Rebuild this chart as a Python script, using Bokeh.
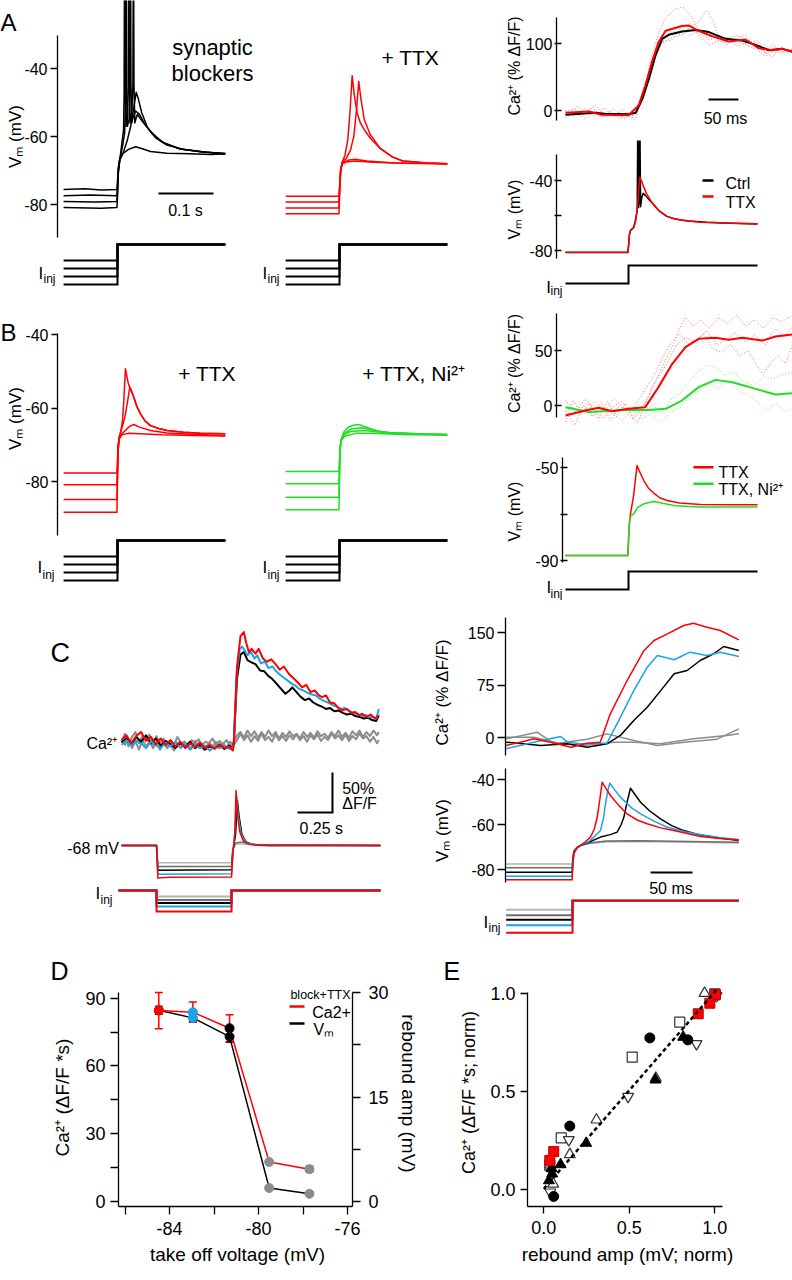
from math import pi
from bokeh.plotting import figure
from bokeh.layouts import row, column
from bokeh.models import Range1d, LinearAxis, FixedTicker, Label, Whisker, ColumnDataSource
from bokeh.embed import file_html
from bokeh.resources import INLINE

FONT = "Liberation Sans"
RED = "#ff0000"
GREEN = "#22dd22"
BLUE = "#1aa3e8"
GRAY = "#8c8c8c"
LGRAY = "#b4b4b4"
DGRAY = "#6e6e6e"
LRED = "#ff6a6a"
LGR = "#9c9c9c"
LGREEN = "#7fe27f"

# ====================== DATA ======================
# ---- A: (time ms, Vm mV), synaptic blockers (black) ----
A1_tr1 = [(-98,-75.6),(-60,-75.4),(-30,-75.7),(-1,-75.6),(0,-73),(1.5,-69),(4,-66.5),(10,-65),(20,-63.8),(33,-63),(45,-63.6),(60,-64.4),(90,-64.9),(130,-65.1),(170,-65.3),(196,-65.1)]
A1_tr2 = [(-98,-77.4),(-50,-77.2),(-1,-77.4),(0,-75),(1.5,-70),(4,-67),(10,-65),(18,-61),(24,-57),(29,-52),(34,-47),(38,-49),(44,-53),(55,-57.5),(70,-60.5),(90,-62.5),(120,-63.8),(160,-64.6),(196,-65)]
A1_tr3 = [(-98,-79.1),(-40,-79.3),(-1,-79.1),(0,-76),(1.5,-70),(4,-67),(9,-63),(13,-59),(14.5,-50),(15.5,5),(16.5,-45),(18,-57),(21,-55),(22.5,-45),(23.5,5),(24.5,-45),(26,-56),(29,-54),(33,-52.5),(40,-53.5),(50,-56.5),(65,-59.5),(85,-62),(115,-63.7),(155,-64.5),(196,-65.2)]
A1_tr4 = [(-98,-80.9),(-30,-81.1),(-1,-80.9),(0,-78),(1.5,-71),(4,-67),(8,-62),(11,-58),(12,-48),(13,5),(14,-45),(15.5,-57),(18,-54),(19.5,-45),(20.5,5),(21.5,-45),(23,-56),(26,-53),(28,-45),(29,5),(30,-45),(31.5,-56),(36,-53.5),(45,-55.5),(60,-58.5),(80,-61.5),(110,-63.5),(150,-64.5),(196,-65)]
# + TTX (red)
A2_tr1 = [(-98,-77.6),(-1,-77.6),(0,-75),(2,-70),(5,-68),(15,-67.4),(30,-67.2),(60,-67.6),(120,-67.9),(196,-68)]
A2_tr2 = [(-98,-79.3),(-1,-79.3),(0,-76),(2,-70),(5,-67.8),(15,-67),(28,-66.7),(50,-67.2),(100,-67.8),(196,-68)]
A2_tr3 = [(-98,-81),(-1,-81),(0,-77),(2,-70),(5,-67.5),(12,-66.5),(20,-64),(26,-60),(31,-52),(35,-43.8),(39,-49),(45,-55),(56,-59.5),(74,-63.5),(96,-66),(115,-67.2),(160,-67.8),(196,-68)]
A2_tr4 = [(-98,-82.7),(-1,-82.7),(0,-78),(2,-71),(5,-67.5),(10,-65.5),(15,-61),(19,-53),(23,-42.1),(27,-48),(32,-53),(38,-56),(45,-58),(56,-60.5),(74,-63.5),(96,-66),(115,-67.2),(160,-67.8),(196,-68)]
I_LEVELS_AB = [-100, -150, -200, -250]      # pA
I_TIME_AB = [-98, 0, 196]                   # start, release, end (ms)
I_HOLD = 0

# ---- A right: Ca (% dF/F) ----
A3_ca_ctrl = [(-105,-6.4),(-55,-3.5),(-40,-5),(0,-5.5),(12,-3.5),(23,17),(34,47),(45,82),(56,107),(67,113),(89,118),(112,120),(134,117),(162,107),(189,104.5),(212,98),(234,90),(256,92),(273,88)]
A3_ca_ttx = [(-105,-3.5),(-66,-1.5),(-45,-6.4),(0,-7),(17,7.5),(28,37),(39,72),(50,102),(62,119),(89,126),(100,127),(117,119),(139,111),(167,103),(195,106),(217,93),(239,90),(256,92),(273,88)]
A3_raw_ttx1 = [(-105,-8),(-90,2),(-75,-6),(-60,5),(-45,-10),(-30,-2),(-15,-12),(0,-4),(10,-14),(20,10),(30,45),(40,85),(50,115),(60,135),(75,150),(90,155),(105,140),(120,115),(135,105),(150,112),(165,98),(180,108),(195,112),(210,95),(225,82),(240,100),(255,85),(273,92)]
A3_raw_ttx2 = [(-105,0),(-88,-10),(-72,3),(-58,-8),(-40,4),(-25,-9),(-10,2),(5,-12),(18,5),(28,30),(38,65),(50,95),(62,110),(75,118),(90,112),(105,128),(120,108),(135,98),(150,104),(165,110),(180,96),(195,100),(210,104),(225,88),(240,80),(255,95),(273,84)]
A3_raw_ctrl1 = [(-105,-2),(-85,6),(-70,-4),(-55,8),(-40,-6),(-25,3),(-10,-8),(5,-2),(18,12),(30,42),(42,78),(55,100),(70,108),(85,112),(100,122),(115,130),(130,150),(140,135),(155,100),(170,110),(185,112),(200,95),(215,105),(230,82),(245,95),(260,86),(273,90)]
A3_raw_ctrl2 = [(-105,-10),(-88,-4),(-72,-12),(-56,-2),(-40,-10),(-22,-4),(-6,-12),(8,-6),(20,18),(32,52),(45,88),(58,103),(72,105),(88,125),(102,112),(118,120),(132,110),(148,112),(162,100),(178,106),(195,98),(210,92),(225,100),(242,85),(258,92),(273,86)]
# A right: Vm
A3_vm_ttx = [(-105,-81),(-1,-81),(0.5,-76),(1.5,-71),(3.3,-68.6),(8.9,-66.7),(12,-63),(14.4,-57),(17,-45),(18.9,-38.1),(22,-40.5),(25.6,-43.8),(30,-47.5),(36.7,-51.4),(45,-55),(53.3,-58.1),(64,-60.5),(75.6,-61.9),(95,-63),(120,-63.8),(160,-64.3),(215,-64.7)]
A3_vm_ctrl = [(-105,-81.2),(-1,-81.2),(0.5,-76),(1.5,-71),(3.3,-68.6),(8.9,-66.7),(12,-62),(14.5,-57),(15.2,-20),(15.6,20),(16,-20),(16.8,-55.5),(17.8,-52),(18.5,-20),(18.9,20),(19.3,-20),(20.2,-55),(22,-50),(24.4,-47.3),(28,-48.5),(33,-50.5),(40,-53),(50,-57),(64,-60.5),(80,-62.2),(100,-63.2),(130,-63.9),(170,-64.4),(215,-64.8)]
I_TIME_R = [-105, 0, 215]
I_LEVEL_R = -100

# ---- B: + TTX (red) ----
B1_tr1 = [(-98,-88.4),(-1,-88.4),(0,-80),(1,-72),(3,-68),(6,-66.5),(9,-63.5),(11.5,-58),(13.5,-52),(14.5,-49.3),(17,-51.5),(20,-53.5),(24,-55),(29.7,-57.1),(35,-59.5),(41.8,-61.6),(50,-63.5),(60,-64.8),(75,-65.6),(90,-66.1),(120,-66.6),(151,-66.9),(196,-67)]
B1_tr2 = [(-98,-84.9),(-1,-84.9),(0,-78),(1,-72),(3,-68),(6,-66.3),(10,-64.5),(14,-62),(18,-58.5),(22.4,-54.3),(26,-55.5),(29.7,-57.1),(35,-59.5),(41.8,-61.6),(50,-63.5),(60,-64.8),(75,-65.6),(90,-66.1),(120,-66.6),(151,-66.9),(196,-67)]
B1_tr3 = [(-98,-80.9),(-1,-80.9),(0,-76),(1,-71),(3,-68.5),(8,-67),(15,-66),(22,-65),(29.7,-64.5),(40,-65.2),(60,-66.1),(90,-66.8),(140,-67.2),(196,-67.5)]
B1_tr4 = [(-98,-77.7),(-1,-77.7),(0,-74),(1,-70),(3,-68.3),(8,-67.3),(20,-66.9),(40,-67),(80,-67.3),(140,-67.5),(196,-67.6)]
# + TTX, Ni2+ (green)
B2_tr1 = [(-98,-87.7),(-1,-87.7),(0,-79),(1,-72),(3,-68.5),(8,-66.5),(15,-65.3),(25,-64.7),(35,-64.5),(50,-65.3),(70,-66.3),(100,-66.9),(150,-67.1),(196,-67.2)]
B2_tr2 = [(-98,-84.3),(-1,-84.3),(0,-78),(1,-72),(3,-68.7),(8,-67),(20,-65.8),(40,-65.4),(60,-66),(90,-66.7),(150,-67.1),(196,-67.2)]
B2_tr3 = [(-98,-80.6),(-1,-80.6),(0,-76),(1,-71),(3,-68.8),(8,-67.3),(20,-66.4),(45,-66.1),(80,-66.7),(150,-67.1),(196,-67.3)]
B2_tr4 = [(-98,-77.3),(-1,-77.3),(0,-74),(1,-70.5),(3,-68.9),(10,-67.6),(30,-66.9),(60,-66.9),(110,-67.2),(196,-67.4)]
# B right Ca
B3_ca_ttx = [(-105,-9.1),(-72,-4.5),(-50,-2.1),(-27,-5.2),(0,-3),(28,-1.5),(50,16.7),(73,37.9),(95,53),(117,60.6),(145,61.5),(167,59.7),(190,61.5),(223,59),(245,62.7),(273,64.5)]
B3_ca_ni = [(-105,-1.5),(-66,-6),(-10,-4),(34,-4),(62,-3),(89,4.5),(117,16.7),(145,23.3),(173,21.2),(212,15.1),(245,10),(273,11.2)]
B3_raw_ttx1 = [(-105,-15),(-92,5),(-80,-8),(-65,2),(-50,-12),(-35,4),(-20,-10),(-5,2),(8,-12),(20,-5),(35,10),(48,25),(60,40),(72,52),(85,70),(95,80),(108,72),(120,78),(135,70),(150,80),(165,75),(180,82),(195,72),(210,78),(225,70),(240,80),(255,76),(273,82)]
B3_raw_ttx2 = [(-105,-5),(-90,-18),(-75,0),(-60,-10),(-45,3),(-30,-14),(-15,0),(0,-8),(15,-16),(28,2),(42,20),(55,30),(68,42),(80,55),(95,62),(110,58),(125,65),(140,52),(155,48),(170,56),(185,45),(200,50),(215,35),(225,28),(238,40),(250,45),(262,38),(273,55)]
B3_raw_ttx3 = [(-105,5),(-88,-6),(-72,6),(-58,-4),(-42,-12),(-28,-2),(-12,4),(2,-6),(18,6),(32,18),(45,30),(58,45),(72,58),(85,65),(100,56),(115,60),(130,68),(148,55),(162,60),(178,66),(195,58),(210,64),(228,55),(245,70),(260,62),(273,72)]
B3_raw_ni1 = [(-105,-6),(-88,2),(-72,-8),(-56,4),(-40,-4),(-24,6),(-8,-2),(8,-10),(24,-4),(40,0),(56,-6),(72,6),(88,12),(104,24),(118,32),(132,37),(146,34),(160,28),(176,30),(192,22),(208,18),(224,26),(240,24),(256,28),(273,30)]
B3_raw_ni2 = [(-105,4),(-90,-6),(-74,0),(-58,-10),(-42,-2),(-26,-8),(-10,-14),(6,-4),(22,-12),(38,-8),(54,-16),(70,-6),(86,-2),(102,8),(118,14),(134,20),(150,16),(166,22),(182,14),(198,10),(214,4),(230,-4),(246,2),(262,-6),(273,-2)]
# B right Vm
B3_vm_ttx = [(-105,-87.8),(-1,-87.8),(0.5,-78.5),(1.5,-74),(3.3,-69.9),(6,-66),(8.9,-61.3),(12,-54),(14.4,-49.1),(18,-51.5),(25.5,-55.6),(33,-58.8),(42,-61),(52,-63),(64.4,-64.2),(85,-65.3),(120,-65.9),(170,-66),(215,-66)]
B3_vm_ni = [(-105,-87.8),(-1,-87.8),(0.5,-78.5),(1.5,-74),(3.3,-71),(8.9,-69.9),(15,-67.3),(25.5,-65.6),(42,-64.6),(55,-65.3),(75.5,-66.3),(100,-66.8),(120,-67),(170,-67),(215,-67)]

# ---- C left: long hyperpolarisation (time ms) ----
C1_ca_red = [(-250,-2),(-215,4),(-180,-6),(-145,3),(-110,8),(-75,-3),(-40,2),(-5,-7),(30,0),(65,-8),(100,-2),(135,-10),(170,-4),(205,-12),(240,-6),(275,-11),(310,-5),(345,-12),(380,-8),(415,-13),(450,-7),(485,-12),(520,-10),(545,-15),(552,-8),(575,90),(600,128),(624,133),(640,120),(660,108),(680,112),(707,106),(730,112),(760,100),(790,96),(820,99),(850,93),(880,86),(910,90),(945,81),(975,76),(1010,70),(1040,64),(1070,67),(1100,58),(1130,60),(1160,54),(1183,51.6),(1210,54),(1240,45),(1270,44),(1300,38),(1326,35),(1360,37),(1390,32),(1420,33),(1450,29),(1469,31),(1500,27),(1530,30),(1560,25),(1588,28.8)]
C1_ca_blue = [(-250,-8),(-215,-2),(-180,-9),(-145,-3),(-110,-6),(-75,-12),(-40,-4),(-5,-8),(30,-12),(65,-5),(100,-10),(135,-4),(170,-11),(205,-7),(240,-14),(275,-8),(310,-12),(345,-9),(380,-15),(415,-10),(450,-12),(485,-9),(520,-13),(545,-11),(552,-8),(572,80),(595,112),(612,115),(630,110),(650,104),(675,108),(700,100),(720,104),(745,94),(775,96),(800,88),(830,90),(850,85),(880,80),(910,76),(940,72),(970,68),(993,66),(1020,62),(1050,60),(1080,57),(1110,55),(1136,54),(1165,50),(1195,47),(1225,45),(1255,42),(1285,40),(1315,37),(1345,38),(1380,34),(1410,32),(1440,30),(1470,28),(1500,29),(1517,26.7),(1545,27),(1570,25),(1588,37)]
C1_ca_black = [(-250,-5),(-215,0),(-180,-8),(-145,2),(-110,-4),(-75,4),(-40,-6),(-5,0),(30,-9),(65,-3),(100,-7),(135,-12),(170,-6),(205,-10),(240,-4),(275,-12),(310,-8),(345,-14),(380,-10),(415,-12),(450,-8),(485,-13),(520,-9),(545,-12),(552,-6),(575,75),(600,105),(624,108),(650,98),(680,95),(707,93),(740,85),(770,84),(800,78),(826,74.6),(850,70),(880,64),(900,60),(921,56),(950,60),(970,64),(1000,58),(1030,52),(1060,48),(1090,50),(1120,45),(1150,42),(1180,40),(1210,37),(1240,38),(1270,34),(1300,35),(1330,32),(1360,30),(1390,31),(1420,28),(1450,27),(1480,25),(1510,26),(1540,23),(1570,22),(1588,29)]
C1_ca_gray1 = [(-250,-4),(-225,6),(-200,-10),(-175,2),(-150,8),(-125,-6),(-100,4),(-75,-2),(-50,5),(-25,-8),(0,3),(25,-6),(50,0),(75,-10),(100,-2),(125,-8),(150,2),(175,-6),(200,-4),(225,-10),(250,-2),(275,-6),(300,-1),(325,-9),(350,-4),(375,-6),(400,0),(425,-8),(450,-3),(475,-7),(500,-2),(525,-9),(552,-5),(575,4),(600,8),(625,1),(650,10),(675,3),(700,9),(725,1),(750,8),(775,2),(800,10),(825,3),(850,8),(875,0),(900,7),(925,2),(950,9),(975,3),(1000,6),(1025,0),(1050,8),(1075,2),(1100,7),(1125,1),(1150,9),(1175,3),(1200,6),(1225,1),(1250,8),(1275,3),(1300,10),(1325,2),(1350,7),(1375,1),(1400,9),(1425,4),(1450,10),(1475,2),(1500,8),(1525,3),(1550,10),(1575,4),(1588,8)]
C1_ca_gray2 = [(-250,-2),(-225,-8),(-200,0),(-175,-12),(-150,-4),(-125,-14),(-100,-2),(-75,-10),(-50,-4),(-25,-12),(0,-6),(25,-14),(50,-5),(75,-12),(100,-8),(125,-15),(150,-6),(175,-12),(200,-4),(225,-9),(250,-12),(275,-3),(300,-10),(325,-6),(350,-12),(375,-5),(400,-10),(425,-4),(450,-11),(475,-6),(500,-12),(525,-4),(552,-8),(575,-2),(600,6),(625,-2),(650,4),(675,-4),(700,3),(725,-3),(750,6),(775,-2),(800,2),(825,-4),(850,5),(875,-2),(900,3),(925,-3),(950,4),(975,-1),(1000,5),(1025,-2),(1050,3),(1075,-4),(1100,4),(1125,-1),(1150,5),(1175,-3),(1200,2),(1225,-2),(1250,6),(1275,0),(1300,4),(1325,-2),(1350,5),(1375,-3),(1400,3),(1425,-1),(1450,6),(1475,0),(1500,3),(1525,-4),(1550,2),(1575,-6),(1588,-2)]
C1_vm_lgray = [(-250,-68),(0,-68),(10,-75.7),(536,-75.7),(545,-69.5),(570,-67.2),(650,-67.5),(1600,-68)]
C1_vm_gray = [(-250,-68),(0,-68),(10,-77.3),(536,-77.3),(545,-70),(560,-67),(600,-66.5),(700,-67.6),(1600,-68)]
C1_vm_black = [(-250,-68),(0,-68),(10,-79),(536,-78.8),(545,-71),(565,-63),(578,-48),(590,-55),(610,-63),(640,-66.5),(700,-67.7),(800,-68),(1600,-68)]
C1_vm_blue = [(-250,-68),(0,-68),(10,-80.8),(536,-80.6),(545,-71.5),(560,-62),(572,-46),(585,-55),(605,-63),(640,-66.8),(720,-67.8),(1600,-68)]
C1_vm_red = [(-250,-68),(0,-68),(10,-82.5),(30,-82.3),(100,-82.1),(536,-82),(545,-72),(560,-62),(568,-43.6),(580,-55),(595,-62),(620,-66),(660,-67.5),(750,-68),(1600,-68)]
I_LEVELS_C = [-120, -190, -250, -320, -420]
C1_I_TIME = [-271, 0, 536, 1600]

# ---- C right ----
C2_ca_red = [(-79,-11.4),(-62,-6.7),(-46,-1.9),(-26,-6.7),(-2,-13.8),(17.5,-8.1),(33,-6.7),(45,33.8),(65,81.4),(85,124),(97,138.6),(113,148),(132.5,160),(144,163.3),(160,157.6),(176,152.9),(198,139.5)]
C2_ca_blue = [(-79,-16),(-46,-6.7),(-14,1.4),(-6,-6.7),(10,-9),(41,-8.1),(53,19.5),(73,67),(89,100.5),(101,117),(121,111),(140,121.9),(160,117),(176,121.9),(198,115.7)]
C2_ca_black = [(-79,-6.7),(-38,-11.4),(-6,-9),(17.5,-13.8),(41,-9),(57,2.9),(73,24.3),(89,43.3),(105,67),(121,91),(136.5,95.7),(152,110),(168,119.6),(180,130),(198,124.3)]
C2_ca_gray1 = [(-79,-1.9),(-42,7.6),(-22,-9),(17.5,-2.4),(41,5.2),(73,-4.3),(101,-11.4),(133,-6.7),(172,-2.4),(198,12.4)]
C2_ca_gray2 = [(-79,0.5),(-46,0.5),(-14,-9),(13.5,-11.4),(49,-6.7),(73,-6.7),(105,-9),(144,-1.9),(184,2.9),(198,5.2)]
C2_vm_lgray = [(-79,-77.5),(-0.5,-77.5),(0.5,-74),(1.6,-71.5),(5,-70.2),(9.5,-69.3),(20,-68.4),(40,-67.8),(80,-67.6),(140,-67.9),(198,-68.2)]
C2_vm_gray = [(-79,-79.2),(-0.5,-79.2),(0.5,-75),(1.6,-72),(5,-70.3),(9.5,-69.3),(20,-68.2),(40,-67.3),(80,-67.2),(140,-67.6),(198,-67.9)]
C2_vm_black = [(-79,-81.2),(-0.5,-81.2),(0.5,-76),(1.6,-72.5),(5,-70.5),(9.5,-69.3),(20,-67.8),(33.3,-65.6),(45,-64.5),(53.2,-63.4),(58,-60),(61.1,-56.8),(65,-50),(69,-43.9),(75,-47),(81,-50.1),(92,-54),(104.8,-57.5),(118,-60.5),(132.5,-62.7),(150,-64.5),(172.3,-65.9),(198,-67.1)]
C2_vm_blue = [(-79,-83),(-0.5,-83),(0.5,-77),(1.6,-73),(5,-70.5),(9.5,-69.3),(20,-67.5),(33.3,-62.7),(37,-57),(39.3,-50.8),(42,-45),(44.4,-41.6),(50,-44.5),(57.1,-47.9),(70,-52.5),(81,-55.3),(97,-58.5),(112.7,-61.2),(135,-63.3),(152,-64.4),(175,-65.8),(198,-66.8)]
C2_vm_red = [(-79,-84.6),(-0.5,-84.6),(0.5,-78),(1.6,-73),(5,-70.5),(9.5,-69.3),(15,-67.8),(21.4,-65.6),(26,-62),(29.4,-56.8),(32.5,-49),(35.3,-41.2),(39,-43.5),(45.2,-47.1),(55,-51.5),(65,-55.3),(77,-58),(88.9,-59.7),(105,-61.5),(120.6,-62.7),(152.4,-65.3),(175,-66.2),(198,-66.8)]
C2_I_TIME = [-79, 0, 198]

# ---- D ----
D_takeoff = [-84.48, -82.95, -81.30, -79.52, -77.71]
D_ca = [84.5, 83.8, 76.7, 17.4, 14.2]
D_ca_err = [8.0, 4.5, 6.0, 0.5, 1.4]
D_amp = [27.5, 26.4, 23.7, 1.9, 1.07]
D_amp_err = [0.6, 0.5, 0.8, 0.2, 0.2]
D_colors = [RED, BLUE, "black", GRAY, GRAY]

# ---- E ----
E_sqr_x = [1.004, 0.971, 0.903, 0.058, 0.035]
E_sqr_y = [0.996, 0.952, 0.898, 0.195, 0.150]
E_cir_x = [0.620, 0.842, 0.152, 0.058]
E_cir_y = [0.775, 0.765, 0.325, -0.034]
E_tri_x = [0.653, 0.815, 0.248, 0.098, 0.049, 0.030, 0.045]
E_tri_y = [0.561, 0.779, 0.238, 0.129, 0.082, 0.047, 0.110]
E_otri_x = [0.940, 0.655, 0.308, 0.152, 0.055, 0.995]
E_otri_y = [1.003, 0.570, 0.357, 0.180, 0.030, 0.985]
E_itri_x = [0.893, 0.493, 0.146, 0.038, 1.010, 0.040]
E_itri_y = [0.745, 0.476, 0.255, -0.012, 0.990, 0.100]
E_osq_x = [0.795, 0.517, 0.102, 1.000, 0.035]
E_osq_y = [0.855, 0.677, 0.265, 1.000, 0.125]
E_fit_x = [0.0, 1.01]
E_fit_y = [0.005, 1.02]

# scale bars (data units)
SB_A1 = (74.5, -76.8, 100)     # t0 (ms), Vm, length ms
SB_A3 = (133.3, 16.4, 50)      # t0, Ca, length
SB_C1 = (1257, -92.5, 250, 50) # t_end, Ca bottom, ms, %dF/F
SB_C2 = (92.9, -81.3, 50)

# ====================== HELPERS ======================
class Panel:
    """A figure whose frame fills its box; maps are (pixel, value, pixels-per-unit)."""
    def __init__(self, box, xmap, ymap, extra=None):
        L, T, R, B = box
        self.xmap, self.ymap, self.extra = xmap, ymap, (extra or {})
        p = figure(width=R - L, height=B - T,
                   x_range=Range1d(self.X(L), self.X(R)),
                   y_range=Range1d(self.Y(B), self.Y(T)),
                   x_axis_location=None, y_axis_location=None,
                   output_backend="svg", toolbar_location=None, min_border=0)
        p.outline_line_color = None
        p.xgrid.visible = False
        p.ygrid.visible = False
        p.background_fill_color = "white"
        p.border_fill_color = "white"
        if self.extra:
            p.extra_y_ranges = {n: Range1d(self.Y(B, n), self.Y(T, n)) for n in self.extra}
        self.p = p

    def X(self, px):
        x0, v0, k = self.xmap
        return v0 + (px - x0) / k

    def Y(self, py, name=None):
        y0, v0, k = self.extra[name] if name else self.ymap
        return v0 - (py - y0) / k


def tr(P, data, color, width=1.5, dash="solid", alpha=1.0, yname="default"):
    P.p.line([a for a, _ in data], [b for _, b in data], line_color=color, line_width=width,
             line_dash=dash, line_alpha=alpha, line_join="round", y_range_name=yname)


def lab(P, px, py, text, size=16, align="left", base="alphabetic", angle=0.0, color="black"):
    P.p.add_layout(Label(x=P.X(px), y=P.Y(py), text=text, text_font=FONT,
                         text_font_size=f"{size}px", text_align=align, text_baseline=base,
                         angle=angle, text_color=color))


def iinj(P, px, py, sx, sy):
    lab(P, px, py, "I", 17)
    lab(P, sx, sy, "inj", 12)


def axis(P, side, ticks, labels, at, span, minor=(), rname=None, out=6, inn=0, standoff=3, size=16):
    kw = {}
    if side in ("left", "right"):
        kw["fixed_location"] = P.X(at)
        kw["bounds"] = (P.Y(span[1], rname), P.Y(span[0], rname))
        if rname:
            kw["y_range_name"] = rname
    else:
        kw["fixed_location"] = P.Y(at)
        kw["bounds"] = (P.X(span[0]), P.X(span[1]))
    ax = LinearAxis(ticker=FixedTicker(ticks=list(ticks), minor_ticks=list(minor)), **kw)
    ax.major_label_overrides = {t: l for t, l in zip(ticks, labels)}
    ax.axis_line_width = 1.3
    ax.major_tick_line_width = 1.3
    ax.minor_tick_line_width = 1.3
    ax.major_tick_out = out
    ax.major_tick_in = inn
    ax.minor_tick_out = out
    ax.minor_tick_in = inn
    ax.major_label_standoff = standoff
    ax.major_label_text_font = FONT
    ax.major_label_text_font_size = f"{size}px"
    ax.major_label_text_color = "black"
    P.p.add_layout(ax, side)


def steps(P, levels, times, colors, yname="default", width=2.0):
    for L, c in zip(levels, colors):
        if len(times) == 3:
            xs = [times[0], times[1], times[1], times[2]]
            ys = [L, L, I_HOLD, I_HOLD]
        else:
            xs = [times[0], times[1], times[1], times[2], times[2], times[3]]
            ys = [I_HOLD, I_HOLD, L, L, I_HOLD, I_HOLD]
        P.p.line(xs, ys, line_color=c, line_width=width, line_join="miter", y_range_name=yname)


VM_LABEL = "Vₘ (mV)"
CA_LABEL = "Ca²⁺ (% ΔF/F)"
COL1 = 255          # right edge of the first column (rows A and B)
ROWAB = 300         # boundary between rows A and B
C2VI = 899          # boundary between C right Vm and I panels

# ====================== ROW A ======================
A1v = Panel((0, 0, COL1, 240), (117, 0, 0.55), (68, -40, 3.4))
axis(A1v, "left", [-80, -60, -40], ["-80", "-60", "-40"], 57, (35, 237), out=7, standoff=3)
for d in (A1_tr1, A1_tr2, A1_tr3, A1_tr4):
    tr(A1v, d, "black")
A1v.p.line([SB_A1[0], SB_A1[0] + SB_A1[2]], [SB_A1[1], SB_A1[1]], line_color="black", line_width=2)
lab(A1v, 185, 210, "0.1 s", 16, "center")
lab(A1v, 212, 47, "synaptic", 22, "center")
lab(A1v, 212, 72.7, "blockers", 22, "center")
lab(A1v, 15, 136, VM_LABEL, 17, "center", "middle", pi / 2)
lab(A1v, 0, 22, "A", 24)

A1i = Panel((0, 240, COL1, ROWAB), (117, 0, 0.55), (244, 0, 0.16))
steps(A1i, I_LEVELS_AB, I_TIME_AB, ["black"] * 4)
iinj(A1i, 38, 273, 43, 278)

A2v = Panel((COL1, 0, 460, 240), (339, 0, 0.55), (68, -40, 3.4))
for d in (A2_tr1, A2_tr2, A2_tr3, A2_tr4):
    tr(A2v, d, RED)
lab(A2v, 381, 56.7, "+ TTX", 21)

A2i = Panel((COL1, 240, 460, ROWAB), (339, 0, 0.55), (244, 0, 0.16))
steps(A2i, I_LEVELS_AB, I_TIME_AB, ["black"] * 4)
iinj(A2i, 262, 273, 267, 278)

A3c = Panel((460, 0, 792, 140), (628, 0, 0.6), (110, 0, 0.67))
axis(A3c, "left", [0, 100], ["0", "100"], 556, (17, 120), out=2, inn=5, standoff=2)
tr(A3c, A3_raw_ctrl1, LGR, 1, "1 2")
tr(A3c, A3_raw_ctrl2, LGR, 1, "1 2")
tr(A3c, A3_raw_ttx1, LRED, 1, "1 2")
tr(A3c, A3_raw_ttx2, LRED, 1, "1 2")
tr(A3c, A3_ca_ctrl, "black", 2)
tr(A3c, A3_ca_ttx, RED, 2)
A3c.p.line([SB_A3[0], SB_A3[0] + SB_A3[2]], [SB_A3[1], SB_A3[1]], line_color="black", line_width=2)
lab(A3c, 725, 117.7, "50 ms", 16, "center")
lab(A3c, 514, 65.5, CA_LABEL, 16, "center", "middle", pi / 2)

A3v = Panel((460, 140, 792, 260), (628, 0, 0.6), (250, -80, 1.75))
axis(A3v, "left", [-80, -60, -40], ["-80", "", "-40"], 556, (154, 258), out=2, inn=5, standoff=2)
tr(A3v, A3_vm_ctrl, "black", 1.5)
tr(A3v, A3_vm_ttx, RED, 1.5)
A3v.p.line([A3v.X(702), A3v.X(713)], [A3v.Y(180), A3v.Y(180)], line_color="black", line_width=2.5)
A3v.p.line([A3v.X(702), A3v.X(713)], [A3v.Y(196), A3v.Y(196)], line_color=RED, line_width=2.5)
lab(A3v, 725, 183.3, "Ctrl", 16)
lab(A3v, 725, 201.7, "TTX", 16)
lab(A3v, 514, 209, VM_LABEL, 16, "center", "middle", pi / 2)

A3i = Panel((460, 260, 792, ROWAB), (628, 0, 0.6), (265, 0, 0.18))
steps(A3i, [I_LEVEL_R], I_TIME_R, ["black"])
iinj(A3i, 545.7, 287.3, 550, 290.7)

# ====================== ROW B ======================
B1v = Panel((0, ROWAB, COL1, 538), (117, 0, 0.55), (481, -80, 3.675))
axis(B1v, "left", [-80, -60, -40], ["-80", "-60", "-40"], 57, (333, 535), out=6, standoff=3)
for d in (B1_tr1, B1_tr2, B1_tr3, B1_tr4):
    tr(B1v, d, RED)
lab(B1v, 177.7, 372.7, "+ TTX", 21)
lab(B1v, 15, 418, VM_LABEL, 17, "center", "middle", pi / 2)
lab(B1v, 0, 332, "B", 24)

B1i = Panel((0, 538, COL1, 600), (117, 0, 0.55), (540, 0, 0.16))
steps(B1i, I_LEVELS_AB, I_TIME_AB, ["black"] * 4)
iinj(B1i, 37, 567, 42, 574)

B2v = Panel((COL1, ROWAB, 470, 538), (339, 0, 0.55), (481, -80, 3.675))
for d in (B2_tr1, B2_tr2, B2_tr3, B2_tr4):
    tr(B2v, d, GREEN)
lab(B2v, 361.7, 372.7, "+ TTX, Ni²⁺", 21)

B2i = Panel((COL1, 538, 470, 600), (339, 0, 0.55), (540, 0, 0.16))
steps(B2i, I_LEVELS_AB, I_TIME_AB, ["black"] * 4)
iinj(B2i, 262, 567, 267, 574)

B3c = Panel((470, ROWAB, 792, 430), (628, 0, 0.6), (405, 0, 1.1))
axis(B3c, "left", [0, 50], ["0", "50"], 556, (313, 417), out=2, inn=5, standoff=2)
for d in (B3_raw_ni1, B3_raw_ni2):
    tr(B3c, d, LGREEN, 1, "1 2")
for d in (B3_raw_ttx1, B3_raw_ttx2, B3_raw_ttx3):
    tr(B3c, d, LRED, 1, "1 2")
tr(B3c, B3_ca_ni, GREEN, 2)
tr(B3c, B3_ca_ttx, RED, 2)
lab(B3c, 514, 363, CA_LABEL, 16, "center", "middle", pi / 2)

B3v = Panel((470, 430, 792, 568), (628, 0, 0.6), (560, -90, 2.325))
axis(B3v, "left", [-90, -70, -50], ["-90", "", "-50"], 562, (457, 562), out=2, inn=5, standoff=2)
tr(B3v, B3_vm_ttx, RED, 1.5)
tr(B3v, B3_vm_ni, GREEN, 1.5)
B3v.p.line([B3v.X(693), B3v.X(713)], [B3v.Y(466.7), B3v.Y(466.7)], line_color=RED, line_width=2.5)
B3v.p.line([B3v.X(693), B3v.X(713)], [B3v.Y(483.3), B3v.Y(483.3)], line_color=GREEN, line_width=2.5)
lab(B3v, 718, 471.7, "TTX", 16)
lab(B3v, 718, 489.3, "TTX, Ni²⁺", 16)
lab(B3v, 514, 511, VM_LABEL, 16, "center", "middle", pi / 2)

B3i = Panel((470, 568, 792, 600), (628, 0, 0.6), (571, 0, 0.18))
steps(B3i, [I_LEVEL_R], I_TIME_R, ["black"])
iinj(B3i, 546, 587, 550, 593)

# ====================== ROW C ======================
C_COLORS = [LGRAY, DGRAY, "black", BLUE, RED]
C1 = Panel((0, 600, 420, 940), (156, 0, 0.14), (845, -68, 2.25),
           extra={"ca": (738, 0, 0.8), "i": (890, 0, 0.05)})
tr(C1, C1_ca_gray1, GRAY, 2, yname="ca")
tr(C1, C1_ca_gray2, GRAY, 2, yname="ca")
tr(C1, C1_ca_black, "black", 2, yname="ca")
tr(C1, C1_ca_blue, BLUE, 2, yname="ca")
tr(C1, C1_ca_red, RED, 2, yname="ca")
for d, c in zip((C1_vm_lgray, C1_vm_gray, C1_vm_black, C1_vm_blue, C1_vm_red), C_COLORS):
    tr(C1, d, c, 1.5)
steps(C1, I_LEVELS_C, C1_I_TIME, C_COLORS, yname="i")
C1.p.line([SB_C1[0] - SB_C1[2], SB_C1[0], SB_C1[0]], [SB_C1[1], SB_C1[1], SB_C1[1] + SB_C1[3]],
          line_color="black", line_width=2, line_join="miter", y_range_name="ca")
lab(C1, 341.7, 788.3, "50%", 16)
lab(C1, 341.7, 803.3, "ΔF/F", 16)
lab(C1, 320.8, 828.3, "0.25 s", 16, "center")
lab(C1, 116.7, 742.7, "Ca²⁺", 16, "right")
lab(C1, 118.3, 848.3, "-68 mV", 16, "right")
iinj(C1, 95, 893, 100, 899)
lab(C1, 50, 652, "C", 27)

C2c = Panel((420, 600, 792, 762), (572, 0, 0.84), (737, 0, 0.7))
axis(C2c, "left", [0, 75, 150], ["0", "75", "150"], 505, (617, 755), out=8, standoff=3)
tr(C2c, C2_ca_gray1, GRAY, 1.5)
tr(C2c, C2_ca_gray2, GRAY, 1.5)
tr(C2c, C2_ca_black, "black", 1.5)
tr(C2c, C2_ca_blue, BLUE, 1.5)
tr(C2c, C2_ca_red, RED, 1.5)
lab(C2c, 442, 692, CA_LABEL, 17, "center", "middle", pi / 2)

C2v = Panel((420, 762, 792, C2VI), (572, 0, 0.84), (779, -40, 2.25))
axis(C2v, "left", [-80, -60, -40], ["-80", "-60", "-40"], 505, (768, 882), out=8, standoff=3)
for d, c in zip((C2_vm_lgray, C2_vm_gray, C2_vm_black, C2_vm_blue, C2_vm_red), C_COLORS):
    tr(C2v, d, c, 1.5)
C2v.p.line([SB_C2[0], SB_C2[0] + SB_C2[2]], [SB_C2[1], SB_C2[1]], line_color="black", line_width=2)
lab(C2v, 670.5, 887.5, "50 ms", 16, "center")
lab(C2v, 442, 830, VM_LABEL, 17, "center", "middle", pi / 2)

C2i = Panel((420, C2VI, 792, 940), (572, 0, 0.84), (900, 0, 0.077))
steps(C2i, I_LEVELS_C, C2_I_TIME, C_COLORS)
iinj(C2i, 483, 922, 488, 927)

# ====================== ROW D / E ======================
D = Panel((0, 940, 420, 1280), (169, -84, 22.25), (1200.7, 0, 2.2556),
          extra={"amp": (1200.7, 0, 6.944)})
axis(D, "left", [0, 30, 60, 90], ["0", "30", "60", "90"], 118, (992, 1206), minor=[15, 45, 75],
     out=8, standoff=5, size=18)
axis(D, "right", [0, 15, 30], ["0", "15", "30"], 352, (992, 1206), minor=[7.5, 22.5], rname="amp",
     out=8, standoff=8, size=18)
axis(D, "below", [-84, -80, -76], ["-84", "-80", "-76"], 1206, (118, 352), minor=[-86, -82, -78],
     out=8, standoff=7, size=18)
D.p.line(D_takeoff, D_amp, line_color="black", line_width=1.5, y_range_name="amp")
D.p.line(D_takeoff, D_ca, line_color=RED, line_width=1.5)
for lo, hi, col in ((0, 3, RED), (3, 5, GRAY)):
    src = ColumnDataSource(dict(x=D_takeoff[lo:hi],
                                lo=[c - e for c, e in zip(D_ca[lo:hi], D_ca_err[lo:hi])],
                                hi=[c + e for c, e in zip(D_ca[lo:hi], D_ca_err[lo:hi])]))
    w = Whisker(source=src, base="x", lower="lo", upper="hi", line_color=col, line_width=1.5)
    w.upper_head.size = 8
    w.lower_head.size = 8
    w.upper_head.line_color = col
    w.lower_head.line_color = col
    w.upper_head.line_width = 1.5
    w.lower_head.line_width = 1.5
    D.p.add_layout(w)
srcv = ColumnDataSource(dict(x=D_takeoff, lo=[a - e for a, e in zip(D_amp, D_amp_err)],
                             hi=[a + e for a, e in zip(D_amp, D_amp_err)]))
wv = Whisker(source=srcv, base="x", lower="lo", upper="hi", line_color="black", line_width=1.5,
             y_range_name="amp")
wv.upper_head.size = 8
wv.lower_head.size = 8
D.p.add_layout(wv)
D.p.scatter(D_takeoff, D_amp, size=9, fill_color=D_colors, line_color=D_colors, y_range_name="amp")
D.p.scatter(D_takeoff, D_ca, size=9, fill_color=D_colors, line_color=D_colors)
lab(D, 350, 994, "block+TTX", 12.5, "right")
D.p.line([D.X(289), D.X(304)], [D.Y(1006), D.Y(1006)], line_color=RED, line_width=2.5)
D.p.line([D.X(289), D.X(304)], [D.Y(1023), D.Y(1023)], line_color="black", line_width=2.5)
lab(D, 311.7, 1011.7, "Ca2+", 16)
lab(D, 313, 1029, "Vₘ", 16)
lab(D, 62, 1097, "Ca²⁺ (ΔF/F *s)", 19, "center", "middle", pi / 2)
lab(D, 408, 1093, "rebound amp (mV)", 19, "center", "middle", -pi / 2)
lab(D, 237, 1254, "take off voltage (mV)", 19, "center", "middle")
lab(D, 50, 970, "D", 25)

E = Panel((420, 940, 792, 1280), (543.3, 0, 171), (1189.3, 0, 196))
axis(E, "left", [0.0, 0.5, 1.0], ["0.0", "0.5", "1.0"], 527, (992, 1206), out=7, standoff=5, size=18)
axis(E, "below", [0.0, 0.5, 1.0], ["0.0", "0.5", "1.0"], 1206, (527, 722), out=7, standoff=7, size=18)
E.p.scatter(E_osq_x, E_osq_y, marker="square", size=10, fill_color="white", line_color="#333333", line_width=1.2)
E.p.scatter(E_otri_x, E_otri_y, marker="triangle", size=11, fill_color="white", line_color="#333333", line_width=1.2)
E.p.scatter(E_itri_x, E_itri_y, marker="inverted_triangle", size=11, fill_color="white", line_color="#333333", line_width=1.2)
E.p.scatter(E_tri_x, E_tri_y, marker="triangle", size=11, fill_color="black", line_color="black")
E.p.scatter(E_cir_x, E_cir_y, marker="circle", size=10, fill_color="black", line_color="black")
E.p.scatter(E_sqr_x, E_sqr_y, marker="square", size=10, fill_color=RED, line_color="#c00000")
E.p.line(E_fit_x, E_fit_y, line_color="black", line_width=2.5, line_dash="4 3")
lab(E, 468, 1092, "Ca²⁺ (ΔF/F *s; norm)", 18, "center", "middle", pi / 2)
lab(E, 627, 1254, "rebound amp (mV; norm)", 19, "center", "middle")
lab(E, 443, 970, "E", 25)

layout = column(
    row(column(A1v.p, A1i.p), column(A2v.p, A2i.p), column(A3c.p, A3v.p, A3i.p)),
    row(column(B1v.p, B1i.p), column(B2v.p, B2i.p), column(B3c.p, B3v.p, B3i.p)),
    row(C1.p, column(C2c.p, C2v.p, C2i.p)),
    row(D.p, E.p),
)

open("out.html", "w").write(file_html(layout, INLINE))
